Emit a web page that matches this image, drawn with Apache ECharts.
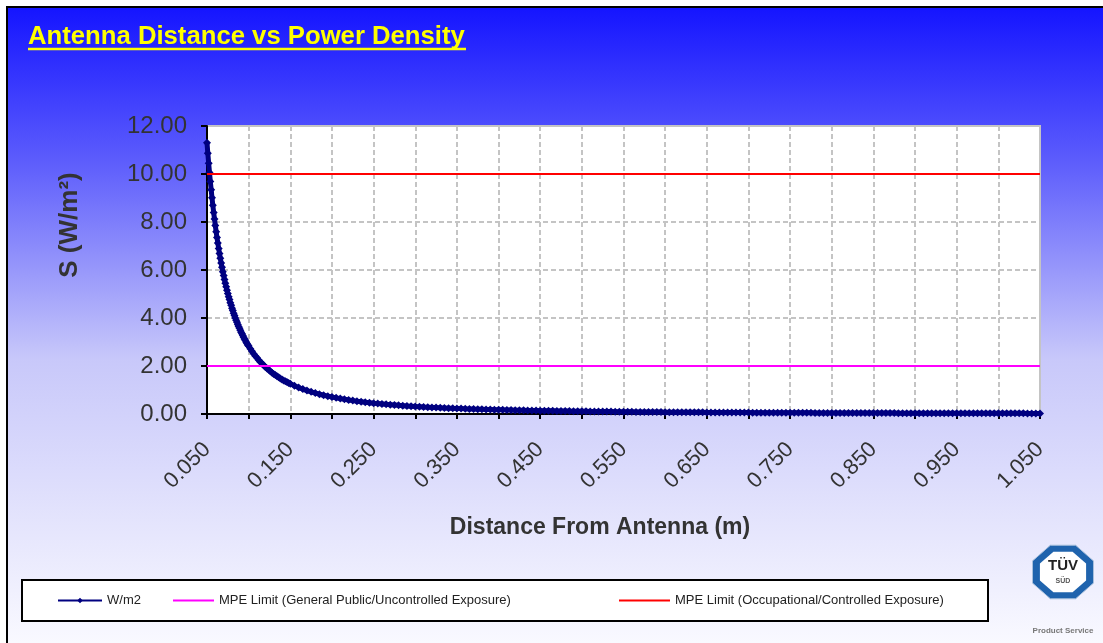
<!DOCTYPE html>
<html><head><meta charset="utf-8">
<script src="https://cdn.jsdelivr.net/npm/echarts@6/dist/echarts.min.js"></script>
<style>html,body{margin:0;padding:0;background:#fff}#c{width:1103px;height:643px}</style>
</head><body><div id="c"></div><script>
// Distance from antenna (m)
const distance = [
  0.050,0.051,0.052,0.053,0.054,0.055,0.056,0.057,0.058,0.059,
  0.060,0.061,0.062,0.063,0.064,0.065,0.066,0.067,0.068,0.069,
  0.070,0.071,0.072,0.073,0.074,0.075,0.076,0.077,0.078,0.079,
  0.080,0.081,0.082,0.083,0.084,0.085,0.086,0.087,0.088,0.089,
  0.090,0.091,0.092,0.093,0.094,0.095,0.096,0.097,0.098,0.099,0.100,
  0.102,0.104,0.106,0.108,0.110,0.112,0.114,0.116,0.118,0.120,
  0.122,0.124,0.126,0.128,0.130,0.132,0.134,0.136,0.138,0.140,
  0.142,0.144,0.146,0.148,0.150,
  0.155,0.160,0.165,0.170,0.175,0.180,0.185,0.190,0.195,0.200,
  0.205,0.210,0.215,0.220,0.225,0.230,0.235,0.240,0.245,0.250,
  0.255,0.260,0.265,0.270,0.275,0.280,0.285,0.290,0.295,0.300,
  0.305,0.310,0.315,0.320,0.325,0.330,0.335,0.340,0.345,0.350,
  0.355,0.360,0.365,0.370,0.375,0.380,0.385,0.390,0.395,0.400,
  0.405,0.410,0.415,0.420,0.425,0.430,0.435,0.440,0.445,0.450,
  0.455,0.460,0.465,0.470,0.475,0.480,0.485,0.490,0.495,0.500,
  0.505,0.510,0.515,0.520,0.525,0.530,0.535,0.540,0.545,0.550,
  0.555,0.560,0.565,0.570,0.575,0.580,0.585,0.590,0.595,0.600,
  0.605,0.610,0.615,0.620,0.625,0.630,0.635,0.640,0.645,0.650,
  0.655,0.660,0.665,0.670,0.675,0.680,0.685,0.690,0.695,0.700,
  0.705,0.710,0.715,0.720,0.725,0.730,0.735,0.740,0.745,0.750,
  0.755,0.760,0.765,0.770,0.775,0.780,0.785,0.790,0.795,0.800,
  0.805,0.810,0.815,0.820,0.825,0.830,0.835,0.840,0.845,0.850,
  0.855,0.860,0.865,0.870,0.875,0.880,0.885,0.890,0.895,0.900,
  0.905,0.910,0.915,0.920,0.925,0.930,0.935,0.940,0.945,0.950,
  0.955,0.960,0.965,0.970,0.975,0.980,0.985,0.990,0.995,1.000,
  1.005,1.010,1.015,1.020,1.025,1.030,1.035,1.040,1.045,1.050
];
// Power density S (W/m2)
const powerDensity = [
  11.30,10.86,10.45,10.06,9.69,9.34,9.01,8.70,8.40,8.12,
  7.85,7.59,7.35,7.12,6.90,6.69,6.49,6.29,6.11,5.93,
  5.77,5.60,5.45,5.30,5.16,5.02,4.89,4.77,4.64,4.53,
  4.41,4.31,4.20,4.10,4.00,3.91,3.82,3.73,3.65,3.57,
  3.49,3.41,3.34,3.27,3.20,3.13,3.07,3.00,2.94,2.88,2.83,
  2.72,2.61,2.51,2.42,2.34,2.25,2.17,2.10,2.03,1.96,
  1.90,1.84,1.78,1.72,1.67,1.62,1.57,1.53,1.48,1.44,
  1.40,1.36,1.33,1.29,1.26,
  1.176,1.104,1.038,0.978,0.922,0.872,0.825,0.783,0.743,0.706,
  0.672,0.641,0.611,0.584,0.558,0.534,0.512,0.490,0.471,0.452,
  0.434,0.418,0.402,0.388,0.374,0.360,0.348,0.336,0.325,0.314,
  0.304,0.294,0.285,0.276,0.267,0.259,0.252,0.244,0.237,0.231,
  0.224,0.218,0.212,0.206,0.201,0.196,0.191,0.186,0.181,0.177,
  0.172,0.168,0.164,0.160,0.156,0.153,0.149,0.146,0.143,0.140,
  0.136,0.134,0.131,0.128,0.125,0.123,0.120,0.118,0.115,0.113,
  0.111,0.109,0.107,0.104,0.102,0.101,0.099,0.097,0.095,0.093,
  0.092,0.090,0.088,0.087,0.085,0.084,0.083,0.081,0.080,0.078,
  0.077,0.076,0.075,0.073,0.072,0.071,0.070,0.069,0.068,0.067,
  0.066,0.065,0.064,0.063,0.062,0.061,0.060,0.059,0.058,0.058,
  0.057,0.056,0.055,0.054,0.054,0.053,0.052,0.052,0.051,0.050,
  0.050,0.049,0.048,0.048,0.047,0.046,0.046,0.045,0.045,0.044,
  0.044,0.043,0.043,0.042,0.042,0.041,0.041,0.040,0.040,0.039,
  0.039,0.038,0.038,0.037,0.037,0.036,0.036,0.036,0.035,0.035,
  0.034,0.034,0.034,0.033,0.033,0.033,0.032,0.032,0.032,0.031,
  0.031,0.031,0.030,0.030,0.030,0.029,0.029,0.029,0.029,0.028,
  0.028,0.028,0.027,0.027,0.027,0.027,0.026,0.026,0.026,0.026
];
const limitGeneral = 2.00;        // MPE Limit (General Public/Uncontrolled Exposure)
const limitOccupational = 10.00;  // MPE Limit (Occupational/Controlled Exposure)
const xTickLabels = ['0.050','0.150','0.250','0.350','0.450','0.550','0.650','0.750','0.850','0.950','1.050'];
const seriesNames = ['W/m2','MPE Limit (General Public/Uncontrolled Exposure)','MPE Limit (Occupational/Controlled Exposure)'];

const FONT = '"Liberation Sans", Arial, sans-serif';
const chart = echarts.init(document.getElementById('c'), null, {renderer:'canvas'});
const mainData = distance.map((d,i)=>[d, powerDensity[i]]);
const dMin = distance[0], dMax = distance[distance.length-1];

const octagon = (cx, cy, rx, ry) => {
  const pts = [];
  for (let i = 0; i < 8; i++) {
    const a = Math.PI/8 + i*Math.PI/4;
    pts.push([cx + rx*Math.cos(a), cy + ry*Math.sin(a)]);
  }
  return pts;
};

const legendText = {fontFamily: FONT, fontSize: 13, color:'#222'};

chart.setOption({
  animation:false,
  textStyle:{fontFamily: FONT},
  title:{
    text:'Antenna Distance vs Power Density', left: 28, top: 24, padding: 0,
    textStyle:{color:'#ffff00', fontSize: 25.7, fontWeight:'bold', fontFamily: FONT}
  },
  grid:{left:207, right:63, top:126, bottom:229, show:true, backgroundColor:'#ffffff', borderColor:'#c4c4c4', borderWidth:2, containLabel:false},
  legend:[
    {left: 57, top: 594, padding: 0, itemWidth: 44, itemHeight: 7, selectedMode:false, textStyle: legendText,
     data:[seriesNames[0]]},
    {left: 173, top: 594, padding: 0, itemWidth: 41, itemHeight: 2, selectedMode:false, textStyle: legendText,
     data:[{name: seriesNames[1], icon:'rect'}]},
    {left: 619, top: 594, padding: 0, itemWidth: 51, itemHeight: 2, selectedMode:false, textStyle: legendText,
     data:[{name: seriesNames[2], icon:'rect'}]}
  ],
  xAxis:{
    type:'value', min: 0.05, max: 1.05, interval: 0.05,
    axisLine:{show:true, onZero:false, lineStyle:{color:'#000', width:2}},
    axisTick:{show:true, length:5, lineStyle:{color:'#000', width:2}},
    splitLine:{show:true, lineStyle:{color:'#c4c4c4', width:2, type:[5,3]}},
    axisLabel:{
      rotate:45, fontSize:22, color:'#333', margin:32, fontFamily: FONT,
      showMinLabel:true, showMaxLabel:true,
      formatter: v => { const s = v.toFixed(3); return xTickLabels.includes(s) ? s : ''; }
    }
  },
  yAxis:{
    type:'value', min:0, max:12, interval:2,
    axisLine:{show:true, lineStyle:{color:'#000', width:2}},
    axisTick:{show:true, length:6, lineStyle:{color:'#000', width:2}},
    splitLine:{show:true, lineStyle:{color:'#c4c4c4', width:2, type:[5,3]}},
    axisLabel:{fontSize:24, color:'#333', margin:20, fontFamily: FONT, formatter: v => v.toFixed(2)}
  },
  series:[
    {
      name: seriesNames[0], type:'line', data: mainData, showAllSymbol:true,
      symbol:'diamond', symbolSize:8, color:'#000080',
      lineStyle:{color:'#000080', width:5}, itemStyle:{color:'#000080'}, z:3
    },
    {
      name: seriesNames[1], type:'line', symbol:'none', color:'#ff00ff',
      data:[[dMin, limitGeneral],[dMax, limitGeneral]],
      lineStyle:{color:'#ff00ff', width:2}, z:4
    },
    {
      name: seriesNames[2], type:'line', symbol:'none', color:'#ff0000',
      data:[[dMin, limitOccupational],[dMax, limitOccupational]],
      lineStyle:{color:'#ff0000', width:2}, z:4
    }
  ],
  graphic:[
    { type:'rect', z:-10, silent:true,
      shape:{x:7, y:7, width:1100, height:640},
      style:{stroke:'#000', lineWidth:2,
        fill:new echarts.graphic.LinearGradient(0,0,0,1,[
          {offset:0, color:'rgb(20,20,255)'},
          {offset:0.24, color:'rgb(92,92,252)'},
          {offset:0.55, color:'rgb(200,200,250)'},
          {offset:1, color:'rgb(250,250,255)'}
        ])}
    },
    { type:'line', z:5, silent:true, shape:{x1:28, y1:49, x2:466, y2:49}, style:{stroke:'#ffff00', lineWidth:2.5} },
    { type:'text', z:5, silent:true, x:70, y:225, rotation:Math.PI/2,
      style:{text:'S (W/m²)', fill:'#333', font:'bold 26px ' + FONT, align:'center', verticalAlign:'middle'} },
    { type:'text', z:5, silent:true, x:600, y:528,
      style:{text:'Distance From Antenna (m)', fill:'#333', font:'bold 23px ' + FONT, align:'center', verticalAlign:'middle'} },
    { type:'rect', z:-5, silent:true, shape:{x:22, y:580, width:966, height:41},
      style:{fill:'#ffffff', stroke:'#000', lineWidth:2} },
    { type:'polygon', z:5, silent:true, shape:{points: octagon(1063, 572, 33, 29)}, style:{fill:'#1f63ad', stroke:'#a8c0dc', lineWidth:1} },
    { type:'polygon', z:6, silent:true, shape:{points: octagon(1063, 572, 25, 22)}, style:{fill:'#ffffff'} },
    { type:'text', z:7, silent:true, x:1063, y:566,
      style:{text:'TÜV', fill:'#222', font:'bold 15px ' + FONT, align:'center', verticalAlign:'middle'} },
    { type:'text', z:7, silent:true, x:1063, y:581,
      style:{text:'SÜD', fill:'#555', font:'bold 7px ' + FONT, align:'center', verticalAlign:'middle'} },
    { type:'text', z:7, silent:true, x:1063, y:631,
      style:{text:'Product Service', fill:'#777', font:'bold 8px ' + FONT, align:'center', verticalAlign:'middle'} }
  ]
});
</script></body></html>
